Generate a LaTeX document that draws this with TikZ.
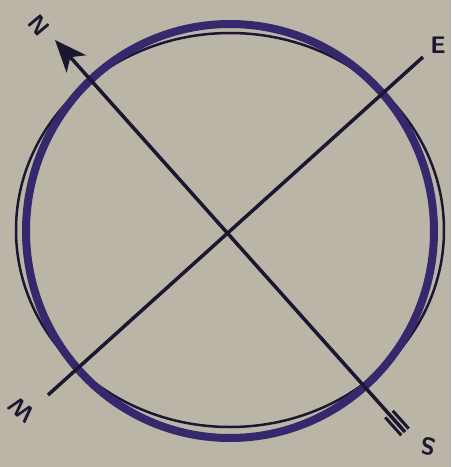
\documentclass[tikz,border=0pt]{standalone}
\usepackage{xcolor}
\usepackage{tikz}
\usetikzlibrary{arrows.meta,positioning,calc}

\definecolor{paper}{HTML}{BAB5A6}
\definecolor{ringink}{HTML}{36286C}
\definecolor{lineink}{HTML}{1B1730}

\begin{document}
\begin{tikzpicture}[
    x=1pt, y=-1pt,
    ring/.style={
        draw=ringink,
        line width=8pt
    },
    thinring/.style={
        draw=lineink,
        line width=2.5pt
    },
    axis/.style={
        draw=lineink,
        line width=3.5pt
    },
    tailmark/.style={
        draw=lineink,
        line width=3pt
    },
    point/.style={
        text=lineink,
        font=\sffamily\bfseries\fontsize{24}{24}\selectfont,
        inner sep=0pt
    },
    arrow/.style={-{Stealth[length=32pt,width=26pt,inset=9pt]}}
]
\fill[paper] (0,0) rectangle (451,467);
\useasboundingbox (0,0) rectangle (451,467);

\draw[thinring] (230,230) ellipse [x radius=214, y radius=197];
\draw[ring] (230,231) ellipse [x radius=204, y radius=207];

\coordinate (n) at (55,40);
\coordinate (s) at (405,432);
\coordinate (e) at (423,57);
\coordinate (w) at (48,395);

\draw[axis, arrow] (s) -- (n);
\draw[axis] (w) -- (e);

\draw[tailmark] ($(s)!5pt!90:(n)$) -- ($($(s)!24pt!(n)$)!5pt!-90:(s)$);
\draw[tailmark] ($(s)!5pt!-90:(n)$) -- ($($(s)!24pt!(n)$)!5pt!90:(s)$);

\node[point, rotate=-50] (lbln) at (39,25) {N};
\node[point] (lble) at (438,45) {E};
\node[point, rotate=170] (lbls) at (428,446) {S};
\node[point, rotate=140] (lblw) at (22,410) {W};
\end{tikzpicture}
\end{document}
